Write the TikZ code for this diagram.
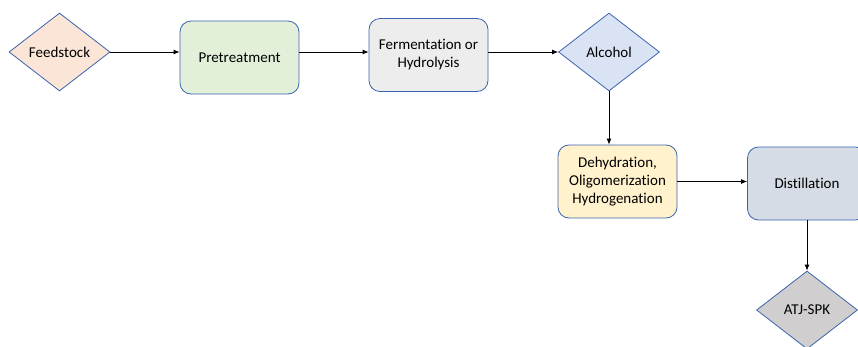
\documentclass[tikz,border=0pt]{standalone}
\usepackage{fontspec}
\setmainfont{Carlito}[Ligatures=NoCommon]
\usetikzlibrary{shapes.geometric,arrows.meta}
\definecolor{bord}{HTML}{3B64AD}
\definecolor{cFeed}{HTML}{FBE5D6}
\definecolor{cPre}{HTML}{E2F0D9}
\definecolor{cFer}{HTML}{EDEDED}
\definecolor{cAlc}{HTML}{DAE3F3}
\definecolor{cDeh}{HTML}{FFF2CC}
\definecolor{cDis}{HTML}{D6DCE5}
\definecolor{cAtj}{HTML}{D0CECE}
\begin{document}
\begin{tikzpicture}[x=1pt,y=-1pt,
  dia/.style={diamond,draw=bord,line width=0.8pt,inner sep=0pt,minimum width=101pt,minimum height=78pt,font=\fontsize{15}{17}\selectfont},
  procbox/.style={rectangle,rounded corners=11pt,draw=bord,line width=0.8pt,minimum width=119pt,minimum height=73pt,align=center,font=\fontsize{15}{18}\selectfont},
  flow/.style={draw=black,line width=0.8pt,-{Latex[length=6pt,width=5pt]}}]
\useasboundingbox (0,0) rectangle (858,346);
\clip (0,0) rectangle (858,346);
\node[dia,fill=cFeed] (feed) at (59.5,52) {Feedstock};
\node[procbox,fill=cPre] (pre) at (239.5,57.5) {Pretreatment};
\node[procbox,fill=cFer] (fer) at (428.5,55) {Fermentation or\\Hydrolysis};
\node[dia,fill=cAlc] (alc) at (609,52) {Alcohol};
\node[procbox,fill=cDeh] (deh) at (617.5,181.5) {Dehydration,\\Oligomerization\\Hydrogenation};
\node[procbox,fill=cDis] (dis) at (807,183.5) {Distillation};
\node[dia,fill=cAtj] (atj) at (807,310) {ATJ-SPK};
\draw[flow] (feed.east) -- (feed.east -| pre.west);
\draw[flow] (pre.east |- feed.east) -- (fer.west |- feed.east);
\draw[flow] (fer.east |- alc.west) -- (alc.west);
\draw[flow] (alc.south) -- (alc.south |- deh.north);
\draw[flow] (deh.east) -- (deh.east -| dis.west);
\draw[flow] (dis.south) -- (atj.north);
\end{tikzpicture}
\end{document}
